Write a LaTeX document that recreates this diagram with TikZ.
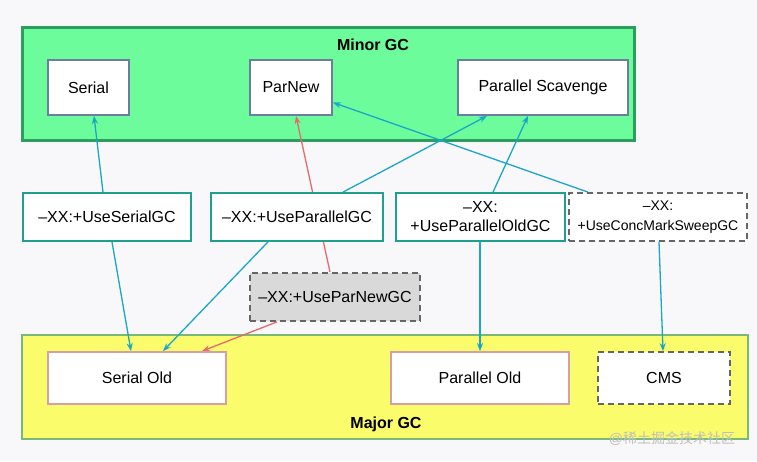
\documentclass[tikz,border=0pt]{standalone}
\usepackage{fontspec}
\setmainfont{Liberation Sans}
\newfontfamily\cjk{Noto Sans CJK SC}
\usetikzlibrary{arrows.meta}
\pgfdeclarelayer{back}
\pgfdeclarelayer{edges}
\pgfsetlayers{back,edges,main}
\definecolor{pagebg}{HTML}{F8F8FA}
\definecolor{minorfill}{HTML}{6CFC9C}
\definecolor{minorline}{HTML}{2E9E5E}
\definecolor{majorfill}{HTML}{FAFC6C}
\definecolor{majorline}{HTML}{7AB87A}
\definecolor{cyanarr}{HTML}{1BA6C9}
\definecolor{redarr}{HTML}{E26B6B}
\definecolor{optline}{HTML}{1FA08E}
\definecolor{gcline}{HTML}{6A7FA0}
\definecolor{oldline}{HTML}{D6A0A0}
\definecolor{dashline}{HTML}{666666}
\definecolor{grayfill}{HTML}{D9D9D9}
\tikzset{
  base/.style={font=\fontsize{16}{19}\selectfont, inner sep=0pt, align=center},
  gcbox/.style={base, draw=gcline, line width=1.8pt, fill=white, minimum height=55pt},
  oldbox/.style={base, draw=oldline, line width=1.8pt, fill=white, minimum height=52pt, minimum width=178pt},
  optbox/.style={base, draw=optline, line width=1.8pt, fill=white, minimum height=48pt},
  dashbox/.style={base, draw=dashline, line width=1.8pt, dash pattern=on 6pt off 4pt},
  arr/.style={draw=cyanarr, line width=1.3pt, -{Stealth[length=8pt,width=6pt]}},
  rarr/.style={arr, draw=redarr},
  title/.style={font=\fontsize{16}{19}\selectfont\bfseries}
}
\begin{document}
\begin{tikzpicture}[x=1pt,y=-1pt]
\useasboundingbox (0,0) rectangle (757,461);
% containers
\begin{pgfonlayer}{back}
\fill[pagebg] (0,0) rectangle (757,461);
\node[draw=minorline, fill=minorfill, line width=3pt, minimum width=612pt, minimum height=113pt, inner sep=0pt] (minor) at (328,83.5) {};
\node[draw=majorline, fill=majorfill, line width=1.5pt, minimum width=726pt, minimum height=104pt, inner sep=0pt] (major) at (385,387) {};
\end{pgfonlayer}
\node[title] (minorlbl) at (373,45) {Minor GC};
\node[title] (majorlbl) at (386,424) {Major GC};
% young collectors
\node[gcbox, minimum width=81pt] (serial) at (88.5,87.5) {Serial};
\node[gcbox, minimum width=82pt] (parnew) at (291,87.5) {ParNew};
\node[gcbox, minimum width=170pt] (parscav) at (543,87.5) {Parallel Scavenge};
% options
\node[optbox, minimum width=168pt] (optserial) at (107,217) {–XX:+UseSerialGC};
\node[optbox, minimum width=172pt] (optparallel) at (297,217) {–XX:+UseParallelGC};
\node[optbox, minimum width=169pt] (optparold) at (480.5,217) {–XX:\\+UseParallelOldGC};
\node[dashbox, fill=white, minimum width=178pt, minimum height=48pt, font=\fontsize{14}{20}\selectfont] (optcms) at (658,217) {–XX:\\+UseConcMarkSweepGC};
\node[dashbox, fill=grayfill, minimum width=170pt, minimum height=48pt] (optparnew) at (335,297) {–XX:+UseParNewGC};
% old collectors
\node[oldbox] (serialold) at (137,378) {Serial Old};
\node[oldbox] (parold) at (480,378) {Parallel Old};
\node[dashbox, fill=white, minimum width=132pt, minimum height=52pt] (cms) at (664,378) {CMS};
% watermark
\node[text=black!25, font=\fontsize{14}{16}\selectfont] (wm) at (672,439) {@{\cjk 稀土掘金技术社区}};
% connectors
\begin{pgfonlayer}{edges}
\draw[arr] ([xshift=-4pt]optserial.north) -- ([xshift=5.5pt]serial.south);
\draw[arr] ([xshift=5pt]optserial.south) -- ([xshift=-6pt]serialold.north);
\draw[arr] ([xshift=46pt]optparallel.north) -- ([xshift=-56pt]parscav.south);
\draw[arr] ([xshift=-29pt]optparallel.south) -- ([xshift=26pt]serialold.north);
\draw[rarr] ([xshift=-5pt]optparnew.north) -- ([xshift=5pt]parnew.south);
\draw[rarr] ([xshift=-58pt]optparnew.south) -- ([xshift=65pt]serialold.north);
\draw[arr] ([xshift=12.5pt]optparold.north) -- ([xshift=-15pt]parscav.south);
\draw[arr] ([xshift=-0.5pt]optparold.south) -- (parold.north);
\draw[arr] ([xshift=-70pt]optcms.north) -- ([yshift=-15pt]parnew.east);
\draw[arr] ([xshift=1pt]optcms.south) -- ([xshift=-1pt]cms.north);
\end{pgfonlayer}
\end{tikzpicture}
\end{document}
